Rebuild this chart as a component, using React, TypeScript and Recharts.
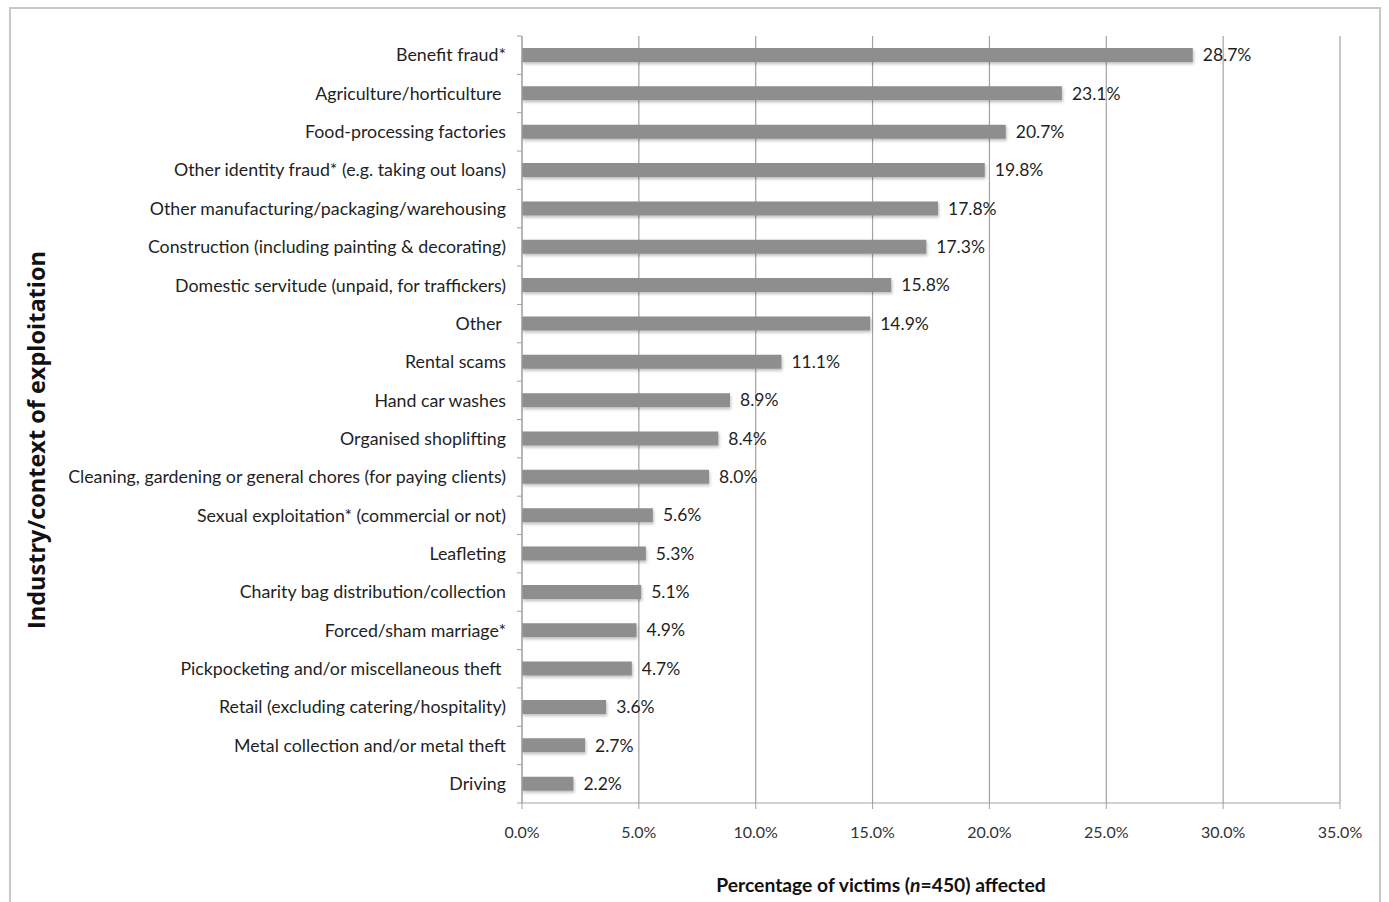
import { Bar, BarChart, CartesianGrid, LabelList, XAxis, YAxis } from 'recharts';

// Share of victims (n=450) per industry / context, in percent
const CONTEXTS = [
  'Benefit fraud*',
  'Agriculture/horticulture\u00A0',
  'Food-processing factories',
  'Other identity fraud* (e.g. taking out loans)',
  'Other manufacturing/packaging/warehousing',
  'Construction (including painting & decorating)',
  'Domestic servitude (unpaid, for traffickers)',
  'Other\u00A0',
  'Rental scams',
  'Hand car washes',
  'Organised shoplifting',
  'Cleaning, gardening or general chores (for paying clients)',
  'Sexual exploitation* (commercial or not)',
  'Leafleting',
  'Charity bag distribution/collection',
  'Forced/sham marriage*',
  'Pickpocketing and/or miscellaneous theft\u00A0',
  'Retail (excluding catering/hospitality)',
  'Metal collection and/or metal theft',
  'Driving',
];

const SHARES = [
  28.7, 23.1, 20.7, 19.8, 17.8, 17.3, 15.8, 14.9, 11.1, 8.9, 8.4, 8.0, 5.6, 5.3, 5.1, 4.9,
  4.7, 3.6, 2.7, 2.2,
];

const X_TICKS = [0, 5, 10, 15, 20, 25, 30, 35];

const data = CONTEXTS.map((name, i) => ({ name, value: SHARES[i] }));

const WIDTH = 1389;
const HEIGHT = 902;
const X_AXIS_HEIGHT = 30;
const Y_AXIS_WIDTH = 512;
const MARGIN = { top: 36, right: 49, bottom: 69, left: 10 };
const PLOT_LEFT = MARGIN.left + Y_AXIS_WIDTH;
const BAND =
  (HEIGHT - MARGIN.top - MARGIN.bottom - X_AXIS_HEIGHT) / CONTEXTS.length;

const FONT = 'Lato, "Open Sans", sans-serif';
const AXIS_GREY = '#a3a3a3';

const pct = (v: number) => `${v.toFixed(1)}%`;

// category tick: label at band centre, tick marks at band edges (Excel style)
function CategoryTick(props: any) {
  const { y, payload, index } = props;
  const last = index === CONTEXTS.length - 1;
  return (
    <g>
      <line
        x1={PLOT_LEFT - 5}
        x2={PLOT_LEFT}
        y1={y - BAND / 2}
        y2={y - BAND / 2}
        stroke={AXIS_GREY}
      />
      {last && (
        <line
          x1={PLOT_LEFT - 5}
          x2={PLOT_LEFT}
          y1={y + BAND / 2}
          y2={y + BAND / 2}
          stroke={AXIS_GREY}
        />
      )}
      <text
        x={PLOT_LEFT - 16}
        y={y}
        dy="0.35em"
        textAnchor="end"
        fontFamily={FONT}
        fontSize={17.8}
        fill="#1f1f1f"
      >
        {payload.value}
      </text>
    </g>
  );
}

export default function App() {
  return (
    <div style={{ position: 'relative', width: WIDTH, height: HEIGHT, background: '#fff' }}>
      <style>{'body{margin:0;}'}</style>
      <div
        style={{
          position: 'absolute',
          left: 9,
          top: 7,
          width: 1372,
          height: 910,
          border: '2px solid #c8c8c8',
          boxSizing: 'border-box',
        }}
      />
      <BarChart
        width={WIDTH}
        height={HEIGHT}
        data={data}
        layout="vertical"
        margin={MARGIN}
        barCategoryGap={0}
        style={{ position: 'absolute', left: 0, top: 0 }}
      >
        <defs>
          <filter id="barShadow" x="-5%" y="-40%" width="110%" height="200%">
            <feDropShadow dx="1" dy="2" stdDeviation="1.5" floodColor="#000" floodOpacity="0.25" />
          </filter>
        </defs>
        <CartesianGrid horizontal={false} stroke={AXIS_GREY} strokeWidth={1.2} />
        <XAxis
          type="number"
          domain={[0, 35]}
          ticks={X_TICKS}
          tickFormatter={pct}
          interval={0}
          height={X_AXIS_HEIGHT}
          stroke={AXIS_GREY}
          tickSize={6}
          tickMargin={18}
          tick={{ fontFamily: FONT, fontSize: 16, fill: '#333' }}
        />
        <YAxis
          type="category"
          dataKey="name"
          width={Y_AXIS_WIDTH}
          interval={0}
          stroke={AXIS_GREY}
          tickLine={false}
          tick={<CategoryTick />}
        />
        <Bar
          dataKey="value"
          fill="#8e8e8e"
          barSize={14}
          filter="url(#barShadow)"
          isAnimationActive={false}
        >
          <LabelList
            dataKey="value"
            position="right"
            offset={10}
            formatter={(v: any) => pct(Number(v))}
            style={{ fontFamily: FONT, fontSize: 17.5, fill: '#1f1f1f' }}
          />
        </Bar>
      </BarChart>
      <div
        style={{
          position: 'absolute',
          left: 36,
          top: 440,
          transform: 'translate(-50%, -50%) rotate(-90deg)',
          whiteSpace: 'nowrap',
          fontFamily: '"Open Sans", sans-serif',
          fontWeight: 700,
          fontSize: 23.5,
          color: '#111',
        }}
      >
        Industry/context of exploitation
      </div>
      <div
        style={{
          position: 'absolute',
          left: 881,
          top: 884,
          transform: 'translate(-50%, -50%)',
          whiteSpace: 'nowrap',
          fontFamily: FONT,
          fontWeight: 700,
          fontSize: 19.3,
          color: '#111',
        }}
      >
        Percentage of victims (<i>n</i>=450) affected
      </div>
    </div>
  );
}
